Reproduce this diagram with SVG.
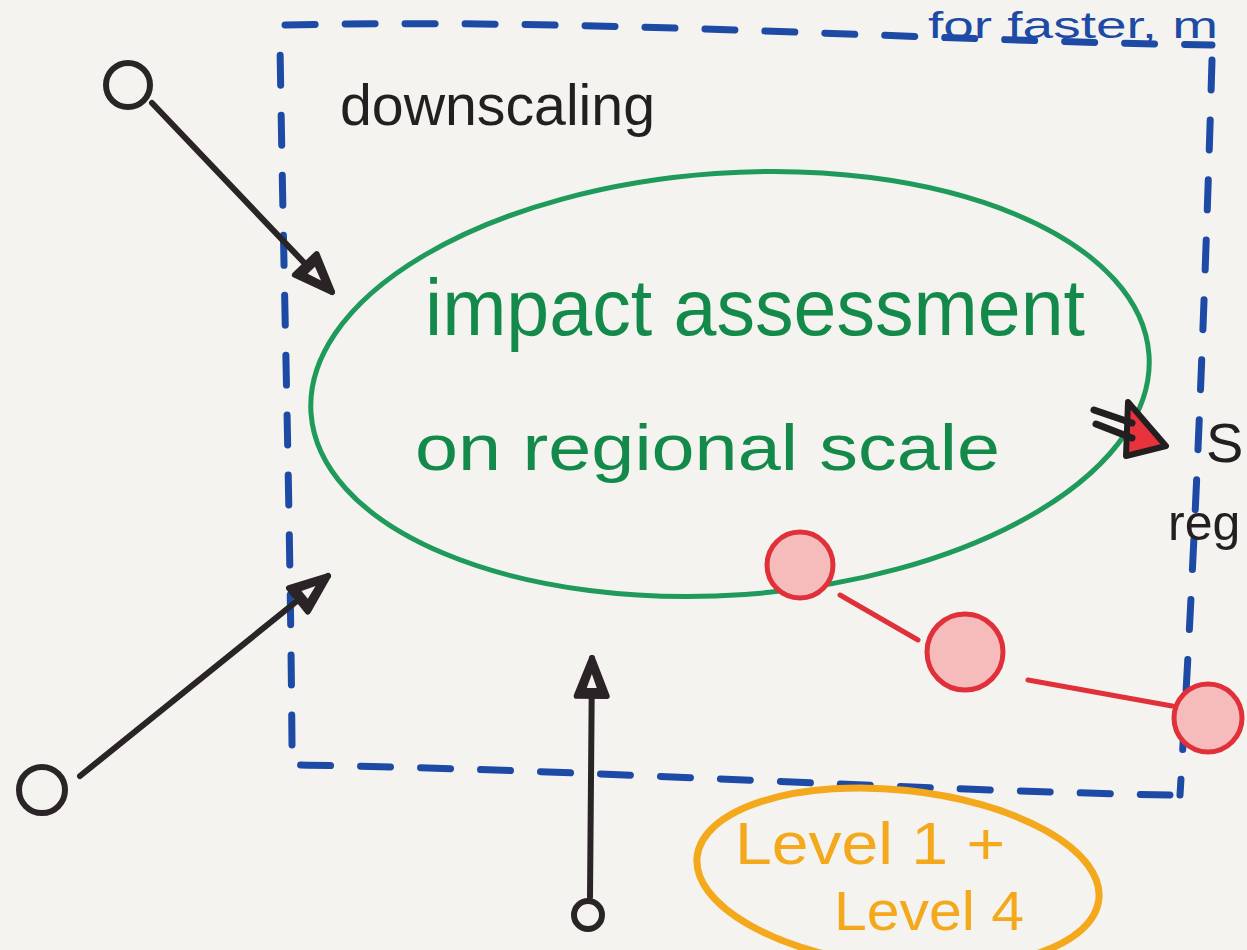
<svg xmlns="http://www.w3.org/2000/svg" width="1247" height="950" viewBox="0 0 1247 950">
<style>
.hand{font-family:"Liberation Sans","Open Sans",sans-serif;}
.blue{stroke:#1d4aa5;stroke-width:7;fill:none;stroke-linecap:round;stroke-dasharray:30 30;}
.blk{stroke:#2a2427;stroke-width:6;fill:none;stroke-linecap:round;}
.red{stroke:#e0303a;stroke-width:5;fill:none;stroke-linecap:round;}
.redc{stroke:#e0303a;stroke-width:5;fill:#f6bcbc;}
.t-green{fill:#138a4a;}
.t-black{fill:#231f20;}
.t-orange{fill:#f4a81c;}
.t-blue{fill:#1d4aa5;}
</style>
<defs>
<marker id="ah" markerUnits="userSpaceOnUse" markerWidth="50" markerHeight="40" refX="40" refY="17" orient="auto" viewBox="-5 -5 50 40">
<path d="M2,2 L40,17 L2,32 Z" fill="#2a2427" stroke="#2a2427" stroke-width="6" stroke-linejoin="round"/>
<path d="M10,12 L24,17 L10,22 Z" fill="#f4f3ef"/>
</marker>
</defs>
<rect width="1247" height="950" fill="#f4f3ef"/>

<g id="frame">
<path class="blue" d="M285,25 C600,18 900,40 1212,45"/>
<path class="blue" d="M1212,60 C1205,300 1195,550 1180,795"/>
<path class="blue" d="M1170,795 C900,790 600,770 300,765"/>
<path class="blue" d="M292,745 C290,500 284,300 280,45"/>
</g>

<g id="title-top">
<text class="hand t-blue" x="928" y="38" font-size="36" textLength="290" lengthAdjust="spacingAndGlyphs">for faster, m</text>
</g>

<g id="downscaling">
<text class="hand t-black" x="340" y="125" font-size="58" textLength="315" lengthAdjust="spacingAndGlyphs">downscaling</text>
</g>

<g id="impact">
<ellipse cx="730" cy="384" rx="420" ry="211" transform="rotate(-4 730 384)" fill="none" stroke="#1f9a5a" stroke-width="5"/>
<text class="hand t-green" x="425" y="335" font-size="80" textLength="660" lengthAdjust="spacingAndGlyphs">impact assessment</text>
<text class="hand t-green" x="415" y="470" font-size="64" textLength="585" lengthAdjust="spacingAndGlyphs">on regional scale</text>
</g>

<g id="input-1">
<circle cx="128" cy="85" r="22" class="blk"/>
</g>
<g id="input-2">
<circle cx="42" cy="790" r="23" class="blk"/>
</g>
<g id="input-3">
<circle cx="588" cy="915" r="14" class="blk"/>
</g>

<g id="risk-chain">
<circle cx="800" cy="565" r="33" class="redc"/>
<circle cx="965" cy="652" r="38" class="redc"/>
<circle cx="1208" cy="718" r="34" class="redc"/>
</g>

<g id="right-label">
<text class="hand t-black" x="1206" y="462" font-size="56">S</text>
<text class="hand t-black" x="1168" y="540" font-size="50">reg</text>
</g>

<g id="levels">
<ellipse cx="898" cy="878" rx="202" ry="88" transform="rotate(6 898 878)" fill="none" stroke="#f4a81c" stroke-width="7"/>
<text class="hand t-orange" x="735" y="864" font-size="60" textLength="270" lengthAdjust="spacingAndGlyphs">Level 1 +</text>
<text class="hand t-orange" x="834" y="930" font-size="56" textLength="190" lengthAdjust="spacingAndGlyphs">Level 4</text>
</g>

<g id="connectors">
<line class="blk" x1="152" y1="103" x2="332" y2="292" marker-end="url(#ah)"/>
<line class="blk" x1="80" y1="776" x2="328" y2="576" marker-end="url(#ah)"/>
<line class="blk" x1="590" y1="897" x2="592" y2="658" marker-end="url(#ah)"/>
<line class="red" x1="840" y1="595" x2="918" y2="640"/>
<line class="red" x1="1028" y1="680" x2="1172" y2="706"/>
<g id="red-arrow">
<path d="M1128,402 L1166,446 L1126,456 Z" fill="#e8333d" stroke="#231f20" stroke-width="6" stroke-linejoin="round"/>
<path d="M1094,410 L1132,423" stroke="#231f20" stroke-width="7" stroke-linecap="round"/>
<path d="M1096,424 L1132,438" stroke="#231f20" stroke-width="7" stroke-linecap="round"/>
</g>
</g>
</svg>
